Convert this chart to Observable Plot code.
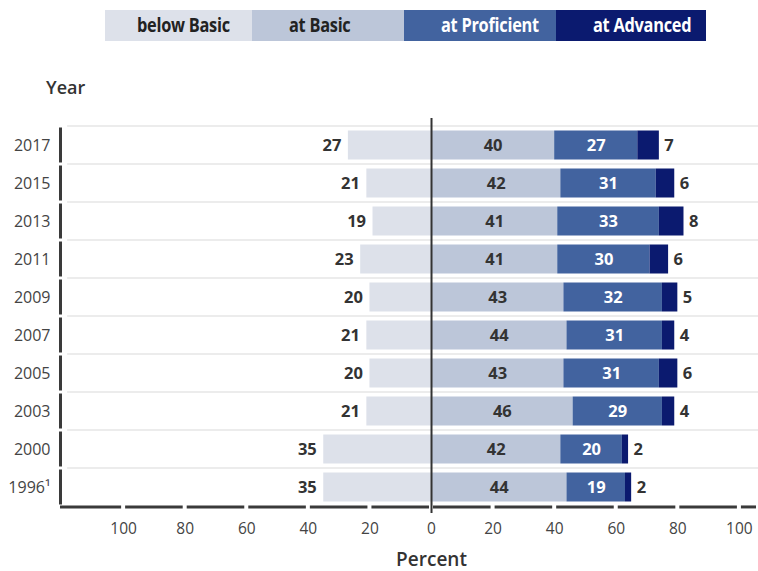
<!DOCTYPE html>
<html><head><meta charset="utf-8">
<script src="https://cdn.jsdelivr.net/npm/d3@7"></script>
<script src="https://cdn.jsdelivr.net/npm/@observablehq/plot@0.6"></script>
<style>
body{margin:0;background:#fff;font-family:"Open Sans",sans-serif;}
#wrap{position:relative;width:758px;height:571px;overflow:hidden;}
#legend{position:absolute;left:105px;top:10px;display:flex;height:31px;z-index:2;}
#legend div{height:31px;line-height:31px;font-weight:bold;font-size:19px;font-family:"Open Sans",sans-serif;box-sizing:border-box;padding-left:32px;white-space:nowrap;overflow:hidden;}
#legend span{display:inline-block;transform:scaleX(0.86);transform-origin:left center;letter-spacing:-0.3px;}
#ylab{position:absolute;left:46px;top:75px;font-size:18px;font-weight:600;color:#333;z-index:2;}
#chart{position:absolute;left:0;top:50px;z-index:1;}
</style></head>
<body><div id="wrap"><div id="legend"></div><div id="ylab">Year</div><div id="chart"></div></div>
<script>
const years = ["2017","2015","2013","2011","2009","2007","2005","2003","2000","1996"];
const belowBasic   = [27,21,19,23,20,21,20,21,35,35];
const atBasic      = [40,42,41,41,43,44,43,46,42,44];
const atProficient = [27,31,33,30,32,31,31,29,20,19];
const atAdvanced   = [7,6,8,6,5,4,6,4,2,2];
const levels = ["below Basic","at Basic","at Proficient","at Advanced"];
const colors = ["#dde1ea","#bcc6d9","#42639f","#0b1a6f"];
const xTicks = [-100,-80,-60,-40,-20,0,20,40,60,80,100];

const legendWidths = [147,152,152,150];
const legendPad = [32,37,37,37];
const legendText = ["#222","#222","#fff","#fff"];
const leg = document.getElementById("legend");
levels.forEach((l,i)=>{
  const d=document.createElement("div");
  const s=document.createElement("span");
  s.textContent=l; d.appendChild(s);
  d.style.background=colors[i]; d.style.width=legendWidths[i]+"px"; d.style.color=legendText[i]; d.style.paddingLeft=legendPad[i]+"px";
  leg.appendChild(d);
});

const W=758, H=521, mt=71, mb=61, ml=60, mr=0;
const step=(H-mt-mb)/years.length;
const xmin=-120.5, xmax=106.2;

const segs=[];
years.forEach((y,i)=>{
  const b=belowBasic[i], a=atBasic[i], p=atProficient[i], v=atAdvanced[i];
  segs.push({year:y, level:levels[0], x1:-b, x2:0, value:b});
  segs.push({year:y, level:levels[1], x1:0, x2:a, value:a});
  segs.push({year:y, level:levels[2], x1:a, x2:a+p, value:p});
  segs.push({year:y, level:levels[3], x1:a+p, x2:a+p+v, value:v});
});
const bounds=[xmin-0.65, ...xTicks, xmax];
const axisSegs=bounds.slice(0,-1).map((b,i)=>[b,bounds[i+1]]);
const last=years[years.length-1];

const chart = Plot.plot({
  width:W, height:H, marginTop:mt, marginBottom:mb, marginLeft:ml, marginRight:mr,
  style:{fontFamily:"'Open Sans', sans-serif", fontSize:"15px", color:"#444", background:"transparent"},
  x:{domain:[xmin,xmax]},
  y:{domain:years, padding:0},
  color:{domain:levels, range:colors},
  marks:[
    Plot.ruleY(years,{y:d=>d, dy:-step/2, x1:-118.2, x2:xmax, stroke:"#e6e6e6", strokeWidth:1.6}),
    Plot.barX(segs,{y:"year", x1:"x1", x2:"x2", fill:"level", insetTop:4.5, insetBottom:4.5}),
    Plot.ruleX([0],{stroke:"#333", strokeWidth:2, insetTop:-3, insetBottom:-3}),
    Plot.tickX(years,{x:()=>xmin, y:d=>d, stroke:"#3a3a3a", strokeWidth:3, insetTop:1.5, insetBottom:1.5}),
    Plot.ruleY(axisSegs,{y:()=>last, dy:step/2, x1:d=>d[0], x2:d=>d[1], stroke:"#3a3a3a", strokeWidth:3, insetLeft:2, insetRight:2}),
    Plot.text(segs.filter(d=>d.level===levels[0]),{y:"year", x:"x1", text:"value", textAnchor:"end", dx:-7, fontWeight:"bold", fontSize:16.5, fill:"#333"}),
    Plot.text(segs.filter(d=>d.level===levels[1]||d.level===levels[2]),{y:"year", x:d=>(d.x1+d.x2)/2, text:"value", fontWeight:"bold", fontSize:16.5, fill:d=>d.level===levels[2]?"#fff":"#333"}),
    Plot.text(segs.filter(d=>d.level===levels[3]),{y:"year", x:"x2", text:"value", textAnchor:"start", dx:5, fontWeight:"bold", fontSize:16.5, fill:"#333"}),
    Plot.axisY({tickSize:0, tickPadding:10, label:null, fontSize:16, tickFormat:d=>d==="1996"?"1996¹":d}),
    Plot.axisX({ticks:xTicks, tickFormat:d=>Math.abs(d), tickSize:0, tickPadding:12, label:null, fontSize:15.5}),
    Plot.text(["Percent"],{x:0, frameAnchor:"bottom", dy:55, text:d=>d, fontSize:19, fontWeight:600, fill:"#333"})
  ]
});
document.getElementById("chart").appendChild(chart);
</script>
</body></html>
